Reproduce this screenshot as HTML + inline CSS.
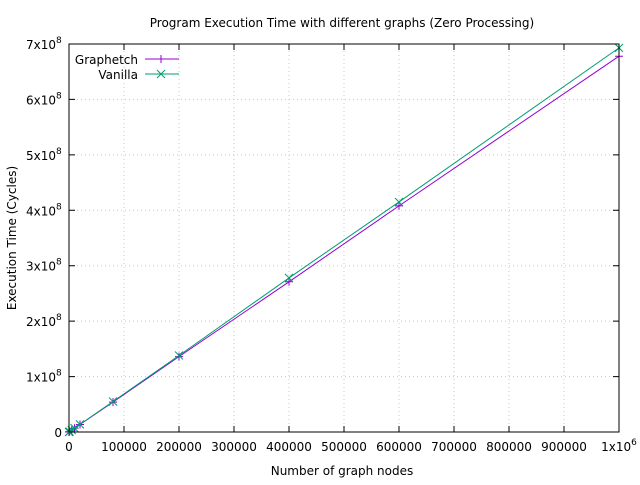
<!DOCTYPE html>
<html><head><meta charset="utf-8"><style>
body{margin:0;background:#fff}
svg text{font-family:"DejaVu Sans","Liberation Sans",sans-serif;font-size:12px;fill:#000}
</style></head><body>
<svg id="chart" width="640" height="480" xmlns="http://www.w3.org/2000/svg">
<text x="342" y="27" text-anchor="middle">Program Execution Time with different graphs (Zero Processing)</text>
<g id="grid"></g>
<g id="axes"></g>
<g id="series"></g>
<rect x="69" y="44" width="550" height="388" fill="none" stroke="#000" stroke-width="1"/>
<text x="342" y="475" text-anchor="middle">Number of graph nodes</text>
<text transform="translate(16,238) rotate(-90)" text-anchor="middle">Execution Time (Cycles)</text>
<g>
<text x="138" y="64" text-anchor="end">Graphetch</text>
<line x1="145" y1="59" x2="179" y2="59" stroke="#9400d3"/>
<path d="M157 59h8M161 55v8" stroke="#9400d3"/>
<text x="138" y="79" text-anchor="end">Vanilla</text>
<line x1="145" y1="74" x2="179" y2="74" stroke="#009e73"/>
<path d="M157 70l8 8M165 70l-8 8" stroke="#009e73"/>
</g>
</svg>
<script>
const nodes = [0, 1000, 5000, 10000, 20000, 80000, 200000, 400000, 600000, 1000000];
const graphetch = [0, 0.7e6, 3.4e6, 6.8e6, 13.5e6, 54e6, 136e6, 271e6, 408e6, 678e6];
const vanilla = [0, 0.7e6, 3.5e6, 7.0e6, 13.8e6, 55e6, 138e6, 278e6, 415e6, 693e6];
const xTicks = [0,100000,200000,300000,400000,500000,600000,700000,800000,900000,1000000];
const xTickLabels = ["0","100000","200000","300000","400000","500000","600000","700000","800000","900000","1x10"];
const yTicks = [0,1e8,2e8,3e8,4e8,5e8,6e8,7e8];
const yTickLabels = ["0","1x10","2x10","3x10","4x10","5x10","6x10","7x10"];
const NS="http://www.w3.org/2000/svg";
const X0=69,X1=619,Y0=432,Y1=44;
const sx=v=>X0+(v/1e6)*(X1-X0);
const sy=v=>Y0-(v/7e8)*(Y0-Y1);
function mk(tag,attrs,parent){const e=document.createElementNS(NS,tag);for(const k in attrs)e.setAttribute(k,attrs[k]);parent.appendChild(e);return e;}
const grid=document.getElementById('grid'),axes=document.getElementById('axes'),series=document.getElementById('series');
xTicks.forEach((t,i)=>{
  const x=sx(t);
  if(i>0&&i<xTicks.length-1){const g=mk('line',{x1:x,y1:Y0,x2:x,y2:Y1,stroke:'#c8c8c8','stroke-dasharray':'1,3'},grid);
  
  }
  const tk=mk('path',{d:`M${x} ${Y0}v-6M${x} ${Y1}v6`,stroke:'#000'},axes);
  
  
  const tx=mk('text',{x:x,y:451,'text-anchor':'middle'},axes);
  
  
  tx.textContent=xTickLabels[i];
  if(i===xTicks.length-1){const s=mk('tspan',{dy:'-6','font-size':'9'},tx);s.textContent='6';}
});
yTicks.forEach((t,i)=>{
  const y=sy(t);
  if(i>0&&i<yTicks.length-1){const g=mk('line',{x1:X0,y1:y,x2:X1,y2:y,stroke:'#c8c8c8','stroke-dasharray':'1,3'},grid);
  
  }
  const tk=mk('path',{d:`M${X0} ${y}h6M${X1} ${y}h-6`,stroke:'#000'},axes);
  
  
  const tx=mk('text',{x:i===0?62:56,y:y+5,'text-anchor':'end'},axes);
  
  
  tx.textContent=yTickLabels[i];
  if(i>0){const s=mk('tspan',{x:56,dy:'-6','font-size':'9','text-anchor':'start'},tx);s.textContent='8';}
});
function draw(vals,color,name,marker){
  const pts=nodes.map((n,i)=>sx(n)+','+sy(vals[i])).join(' ');
  const l=mk('polyline',{points:pts,fill:'none',stroke:color,'stroke-width':1},series);
  
  
  nodes.forEach((n,i)=>{
    const x=sx(n),y=sy(vals[i]);
    const d=marker==='plus'?`M${x-4} ${y}h8M${x} ${y-4}v8`:`M${x-4} ${y-4}l8 8M${x+4} ${y-4}l-8 8`;
    const m=mk('path',{d:d,stroke:color},series);
    
    
  });
}
draw(graphetch,'#9400d3','graphetch','plus');
draw(vanilla,'#009e73','vanilla','cross');
</script>
</body></html>
